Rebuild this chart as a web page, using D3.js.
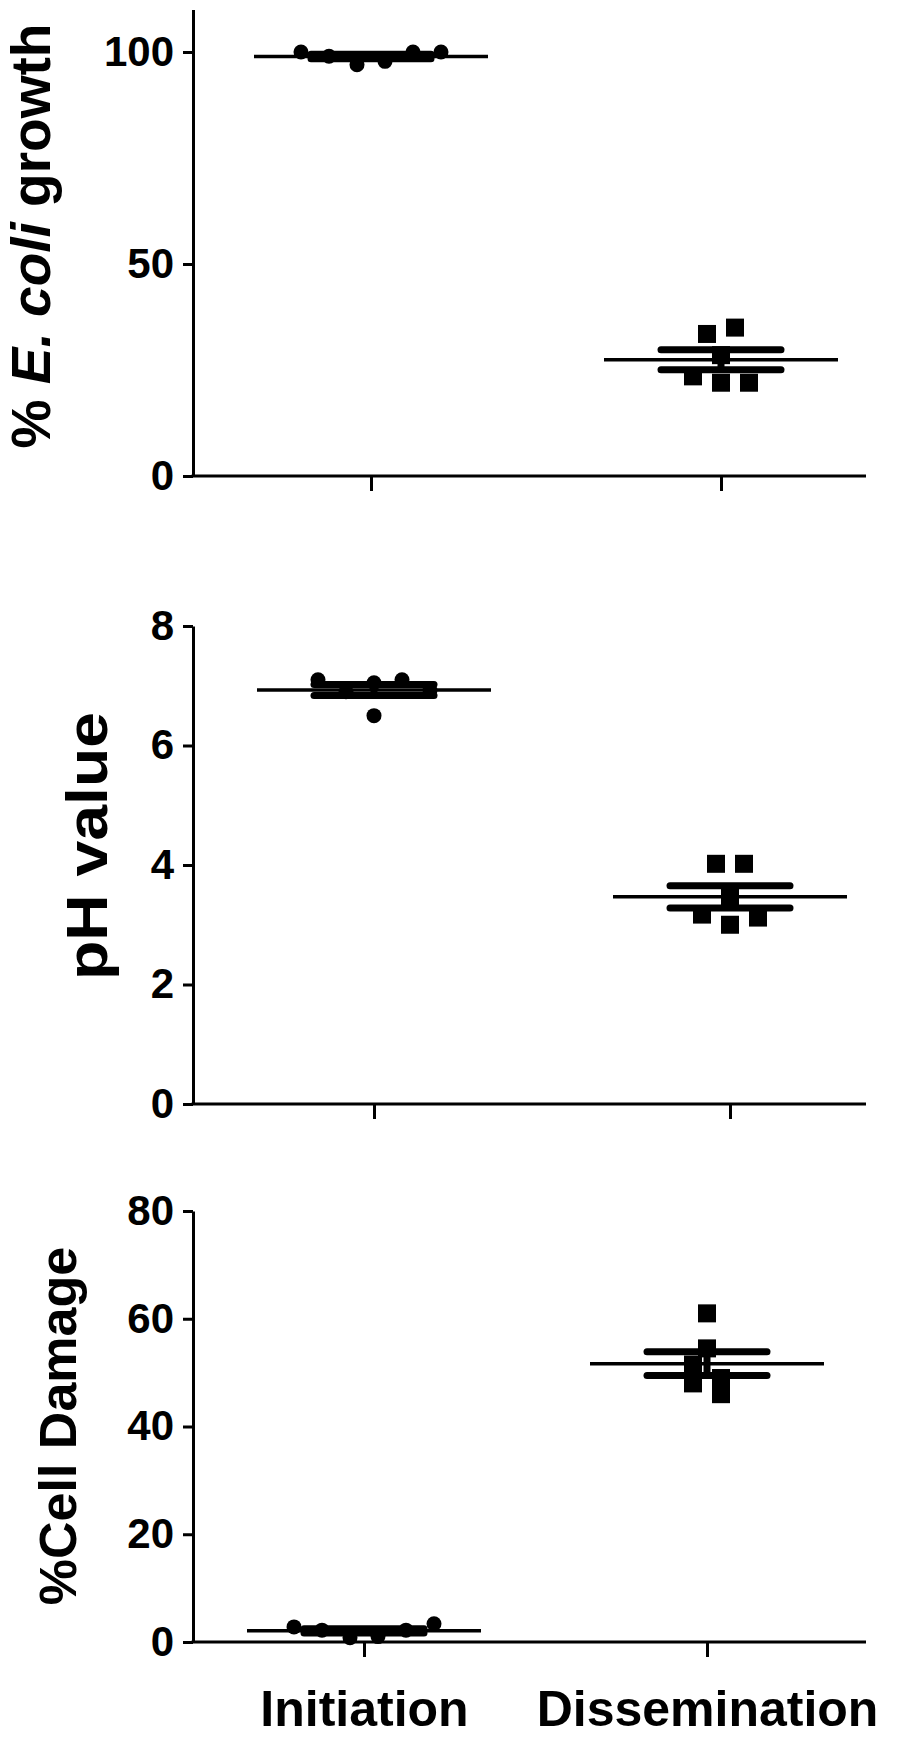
<!DOCTYPE html>
<html>
<head>
<meta charset="utf-8">
<script src="https://cdn.jsdelivr.net/npm/d3@7/dist/d3.min.js"></script>
<style>
  html, body { margin: 0; padding: 0; background: #fff; }
  svg { display: block; }
  text { font-family: "Liberation Sans", Arial, sans-serif; fill: #000; }
</style>
</head>
<body>
<svg id="chart" width="924" height="1751"></svg>
<script>
// ---------- data ----------
const categories = ["Initiation", "Dissemination"];

const ecoliInitiation     = [100, 99, 97, 97.8, 100, 100];
const ecoliDissemination  = [33.5, 35, 28.5, 23.5, 22, 22];
const phInitiation        = [7.1, 6.9, 7.05, 6.5, 7.1, 6.92];
const phDissemination     = [4.02, 4.02, 3.47, 3.17, 3.0, 3.12];
const damageInitiation    = [2.8, 2.2, 0.8, 1.0, 2.2, 3.4];
const damageDissemination = [61, 54.5, 51.5, 49, 48, 46];

const ecoliTicks  = [0, 50, 100];
const phTicks     = [0, 2, 4, 6, 8];
const damageTicks = [0, 20, 40, 60, 80];

const ecoliDomain  = [0, 110];
const phDomain     = [0, 8];
const damageDomain = [0, 80];

// ---------- layout ----------
const svg = d3.select("#chart");
const axisX0 = 193, axisX1 = 866;

const panels = [
  { series: [ecoliInitiation, ecoliDissemination], domain: ecoliDomain, ticks: ecoliTicks,
    yRange: [476, 9.6], centers: [371, 721],
    title: "ecoli", titleX: 50, titleY: 236, titleSize: 55, titleLen: null, xLabels: false },
  { series: [phInitiation, phDissemination], domain: phDomain, ticks: phTicks,
    yRange: [1104, 626], centers: [374, 730],
    title: "pH value", titleX: 107, titleY: 846, titleSize: 58, titleLen: 268, xLabels: false },
  { series: [damageInitiation, damageDissemination], domain: damageDomain, ticks: damageTicks,
    yRange: [1642, 1211], centers: [364, 707],
    title: "%Cell Damage", titleX: 76, titleY: 1426, titleSize: 52, titleLen: null, xLabels: true }
];

const meanHalf = 117, capHalf = 60, spacing = 28, rowH = 16;
const circleR = 7.5, squareS = 18;

function mean(a) { return d3.mean(a); }
function sem(a) { return d3.deviation(a) / Math.sqrt(a.length); }

// GraphPad-like column scatter: bin close values into rows, spread each row symmetrically
function spread(values, y) {
  const idx = values.map((v, i) => i).sort((a, b) => y(values[a]) - y(values[b]));
  const offs = new Array(values.length).fill(0);
  let row = [], start = null;
  const flush = () => {
    row.sort((a, b) => a - b);
    row.forEach((ix, j) => { offs[ix] = (j - (row.length - 1) / 2) * spacing; });
    row = [];
  };
  idx.forEach(ix => {
    const py = y(values[ix]);
    if (start === null || py - start >= rowH) { if (row.length) flush(); start = py; }
    row.push(ix);
  });
  if (row.length) flush();
  return offs;
}

panels.forEach((p, pi) => {
  const y = d3.scaleLinear().domain(p.domain).range(p.yRange);
  const x = d3.scalePoint().domain(categories).range(p.centers);
  const g = svg.append("g");

  // y axis
  const yAxis = d3.axisLeft(y).tickValues(p.ticks).tickSize(10).tickSizeOuter(0).tickPadding(9)
    .tickFormat(d3.format("d"));
  const ya = g.append("g").attr("transform", `translate(${axisX0},0)`).call(yAxis);
  ya.select(".domain").attr("stroke", "#000").attr("stroke-width", 3);
  ya.selectAll(".tick line").attr("stroke", "#000").attr("stroke-width", 3);
  ya.selectAll(".tick text").attr("font-size", 42).attr("font-weight", "bold")
    .attr("font-family", "Liberation Sans, Arial, sans-serif");

  // x axis
  const y0 = y(0);
  g.append("line").attr("x1", axisX0 - 1.5).attr("x2", axisX1).attr("y1", y0).attr("y2", y0)
    .attr("stroke", "#000").attr("stroke-width", 3);
  const xAxis = d3.axisBottom(x).tickSize(15).tickSizeOuter(0).tickPadding(33)
    .tickFormat(p.xLabels ? (d => d) : (() => ""));
  const xa = g.append("g").attr("transform", `translate(0,${y0})`).call(xAxis);
  xa.select(".domain").remove();
  xa.selectAll(".tick line").attr("stroke", "#000").attr("stroke-width", 3);
  xa.selectAll(".tick text").attr("font-size", 50).attr("font-weight", "bold")
    .attr("font-family", "Liberation Sans, Arial, sans-serif");

  // y title
  const t = g.append("text")
    .attr("transform", `translate(${p.titleX},${p.titleY}) rotate(-90)`)
    .attr("text-anchor", "middle").attr("font-size", p.titleSize).attr("font-weight", "bold");
  if (p.title === "ecoli") {
    t.append("tspan").text("% ");
    t.append("tspan").attr("font-style", "italic").text("E. coli");
    t.append("tspan").text(" growth");
  } else {
    t.text(p.title);
    if (p.titleLen) t.attr("textLength", p.titleLen).attr("lengthAdjust", "spacingAndGlyphs");
  }

  // data
  p.series.forEach((vals, si) => {
    const cx = x(categories[si]);
    const m = mean(vals), s = sem(vals);
    const offs = spread(vals, y);
    const dg = g.append("g");
    if (si === 0) {
      dg.selectAll("circle").data(vals).join("circle")
        .attr("cx", (d, i) => cx + offs[i]).attr("cy", d => y(d)).attr("r", circleR)
        .attr("fill", "#000");
    } else {
      dg.selectAll("rect").data(vals).join("rect")
        .attr("x", (d, i) => cx + offs[i] - squareS / 2).attr("y", d => y(d) - squareS / 2)
        .attr("width", squareS).attr("height", squareS).attr("fill", "#000");
    }
    // mean line
    dg.append("line").attr("x1", cx - meanHalf).attr("x2", cx + meanHalf)
      .attr("y1", y(m)).attr("y2", y(m)).attr("stroke", "#000").attr("stroke-width", 3.5);
    // SEM whisker
    dg.append("line").attr("x1", cx).attr("x2", cx).attr("y1", y(m - s)).attr("y2", y(m + s))
      .attr("stroke", "#000").attr("stroke-width", 7);
    [m - s, m + s].forEach(v => {
      dg.append("line").attr("x1", cx - capHalf).attr("x2", cx + capHalf)
        .attr("y1", y(v)).attr("y2", y(v)).attr("stroke", "#000").attr("stroke-width", 7)
        .attr("stroke-linecap", "round");
    });
  });
});
</script>
</body>
</html>
